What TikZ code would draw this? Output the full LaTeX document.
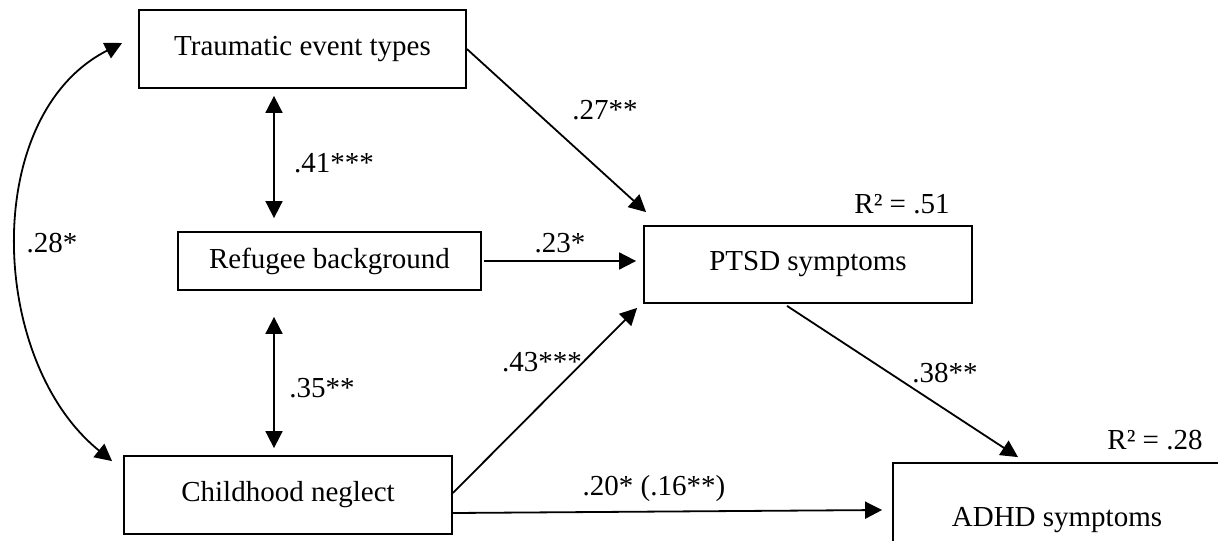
\documentclass[tikz,border=0pt]{standalone}
\usepackage{fontspec}
\setmainfont{Liberation Serif}
\usepackage{tikz}
\usetikzlibrary{arrows.meta}

\begin{document}
\begin{tikzpicture}[x=0.5pt,y=-0.5pt,
  box/.style={draw,line width=0.9pt,inner sep=0pt,font=\fontsize{14.5}{17}\selectfont},
  lbl/.style={inner sep=0pt,font=\fontsize{14.5}{17}\selectfont},
  arr/.style={line width=0.9pt,-{Triangle[length=8.5pt,width=8.5pt]}},
  dbl/.style={line width=0.9pt,{Triangle[length=8.5pt,width=8.5pt]}-{Triangle[length=8.5pt,width=8.5pt]}}]
\clip (0,0) rectangle (1218,540);

% boxes
\node[box,minimum width=163.5pt,minimum height=39pt] (trauma) at (302.5,49) {Traumatic event types};
\node[box,minimum width=151.5pt,minimum height=29pt] (refugee) at (329.5,261) {Refugee background};
\node[box,minimum width=164pt,minimum height=39pt] (neglect) at (288,495) {Childhood neglect};
\node[box,minimum width=164pt,minimum height=38.5pt] (ptsd) at (808,264.5) {PTSD symptoms};
\node[box,minimum width=164pt,minimum height=57pt] (adhd) at (1057,520) {ADHD symptoms};

% correlations
\draw[dbl,shorten <=3.5pt,shorten >=6.5pt] ([xshift=-14.25pt]trauma.south) -- ([xshift=-27.75pt]refugee.north);
\draw[dbl,shorten <=13pt,shorten >=3.5pt] ([xshift=-27.75pt]refugee.south) -- ([xshift=-7pt]neglect.north);
\draw[dbl] ([xshift=-8pt,yshift=3pt]trauma.west) .. controls +(-142,72) and +(-124,-100) .. ([xshift=-5.5pt,yshift=-3pt]neglect.north west);

% paths
\draw[arr] (trauma.east) -- ([xshift=1.5pt,yshift=6.5pt]ptsd.north west);
\draw[arr,shorten <=1pt,shorten >=3.5pt] (refugee.east) -- (refugee.east -| ptsd.west);
\draw[arr] ([yshift=1pt]neglect.east) -- ([xshift=-3pt,yshift=-2pt]ptsd.south west);
\draw[arr] ([yshift=-9pt]neglect.east) -- ([xshift=-5pt,yshift=5pt]adhd.west);
\draw[arr] ([xshift=-10.5pt,yshift=-1pt]ptsd.south) -- ([xshift=-19.5pt,yshift=2.5pt]adhd.north);

% coefficients
\node[lbl] (c41) at (334,163) {.41***};
\node[lbl] (c35) at (322,388) {.35**};
\node[lbl] (c28) at (52,243) {.28*};
\node[lbl] (c27) at (605,110) {.27**};
\node[lbl] (c23) at (560,243) {.23*};
\node[lbl] (c43) at (542,362) {.43***};
\node[lbl] (c38) at (945,373) {.38**};
\node[lbl] (c20) at (654,489) {.20* (.16**)};
\node[lbl] (r51) at (902,204) {R² = .51};
\node[lbl] (r28) at (1155,440) {R² = .28};

\end{tikzpicture}
\end{document}
